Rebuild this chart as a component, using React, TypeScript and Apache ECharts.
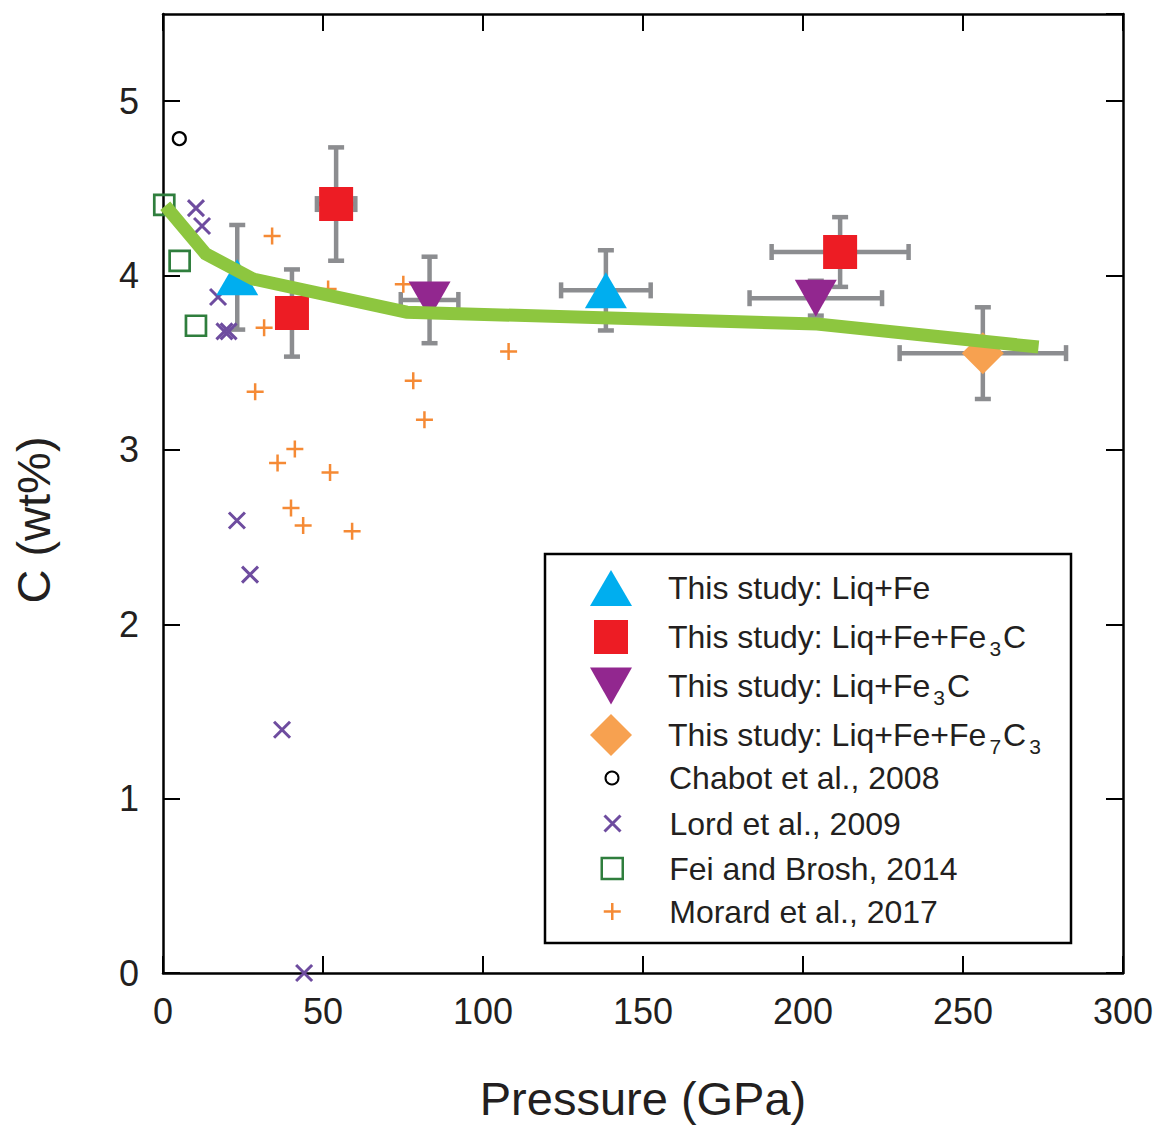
import React, { useEffect, useRef } from 'react';
import * as echarts from 'echarts';

const FONT = '"Liberation Sans", Arial, Helvetica, sans-serif';
const INK = '#231F20';

// axes
const X_MIN = 0;
const X_MAX = 300;
const X_STEP = 50;
const Y_MIN = 0;
const Y_MAX = 5.5;
const Y_STEP = 1;
const X_TITLE = 'Pressure (GPa)';
const Y_TITLE = 'C (wt%)';

// series names
const N_LIQFE = 'This study: Liq+Fe';
const N_LIQFEFE3C = 'This study: Liq+Fe+Fe3C';
const N_LIQFE3C = 'This study: Liq+Fe3C';
const N_LIQFEFE7C3 = 'This study: Liq+Fe+Fe7C3';
const N_CHABOT = 'Chabot et al., 2008';
const N_LORD = 'Lord et al., 2009';
const N_FEI = 'Fei and Brosh, 2014';
const N_MORARD = 'Morard et al., 2017';

// [pressure (GPa), C (wt%), ±pressure, ±C]
const liqFe = [
  [23.2, 3.99, 0, 0.3],
  [138.4, 3.915, 14, 0.23],
];
const liqFeFe3C = [
  [40.3, 3.785, 0, 0.25],
  [54.1, 4.41, 6, 0.325],
  [211.6, 4.135, 21.4, 0.2],
];
const liqFe3C = [
  [83.3, 3.86, 9, 0.248],
  [204, 3.87, 20.7, 0.1],
];
const liqFeFe7C3 = [[256.2, 3.555, 26, 0.263]];

// [pressure (GPa), C (wt%)]
const chabot2008 = [[5.1, 4.785]];
const lord2009 = [
  [10.3, 4.387],
  [12.2, 4.284],
  [17.2, 3.877],
  [19.2, 3.68],
  [20.5, 3.68],
  [23.1, 2.595],
  [27.2, 2.285],
  [37.2, 1.395],
  [44.1, 0],
];
const fei2014 = [
  [0.4, 4.405],
  [5.2, 4.084],
  [10.3, 3.712],
];
const morard2017 = [
  [34.1, 4.227],
  [51.6, 3.923],
  [75.1, 3.95],
  [31.6, 3.7],
  [28.8, 3.333],
  [78.2, 3.396],
  [81.7, 3.173],
  [108, 3.564],
  [41.2, 3.005],
  [35.8, 2.925],
  [52.2, 2.871],
  [40, 2.667],
  [43.8, 2.566],
  [59.1, 2.533],
];
const trendLine = [
  [0.7, 4.4],
  [13.3, 4.125],
  [28.2, 3.98],
  [76.2, 3.79],
  [204.4, 3.722],
  [273.6, 3.59],
];

// legend labels with subscripts (rich text)
const LEGEND_TEXT: Record<string, string> = {
  [N_LIQFE]: '{a|This study: Liq+Fe}',
  [N_LIQFEFE3C]: '{a|This study: Liq+Fe+Fe}{s|3}{a|C}',
  [N_LIQFE3C]: '{a|This study: Liq+Fe}{s|3}{a|C}',
  [N_LIQFEFE7C3]: '{a|This study: Liq+Fe+Fe}{s|7}{a|C}{s|3}',
  [N_CHABOT]: '{a|Chabot et al., 2008}',
  [N_LORD]: '{a|Lord et al., 2009}',
  [N_FEI]: '{a|Fei and Brosh, 2014}',
  [N_MORARD]: '{a|Morard et al., 2017}',
};

// colours
const C_BLUE = '#00AEEF';
const C_RED = '#ED1C24';
const C_PURPLE = '#92278F';
const C_DIAMOND = '#F7A150';
const C_GREENLINE = '#8DC63F';
const C_ERR = '#8C8D90';
const C_LORD = '#6E4C9F';
const C_FEI = '#2F7E3D';
const C_MORARD = '#F58A35';
const CLEAR = 'rgba(0,0,0,0)';

const X_PATH = 'path://M0,0L10,10M10,0L0,10';
const PLUS_PATH = 'path://M5,0L5,10M0,5L10,5';
const DOWN_TRI_PATH = 'path://M0,0L42,0L21,37Z';

function errorBarItem(params: any, api: any) {
  const x = api.value(0);
  const y = api.value(1);
  const ex = api.value(2);
  const ey = api.value(3);
  const c = api.coord([x, y]);
  const cap = 8;
  const style = { stroke: C_ERR, lineWidth: 4.5, fill: 'none' };
  const kids: any[] = [];
  if (ey > 0) {
    const t = api.coord([x, y + ey]);
    const b = api.coord([x, y - ey]);
    kids.push({ type: 'line', shape: { x1: c[0], y1: t[1], x2: c[0], y2: b[1] }, style });
    kids.push({ type: 'line', shape: { x1: c[0] - cap, y1: t[1], x2: c[0] + cap, y2: t[1] }, style });
    kids.push({ type: 'line', shape: { x1: c[0] - cap, y1: b[1], x2: c[0] + cap, y2: b[1] }, style });
  }
  if (ex > 0) {
    const l = api.coord([x - ex, y]);
    const r = api.coord([x + ex, y]);
    kids.push({ type: 'line', shape: { x1: l[0], y1: c[1], x2: r[0], y2: c[1] }, style });
    kids.push({ type: 'line', shape: { x1: l[0], y1: c[1] - cap, x2: l[0], y2: c[1] + cap }, style });
    kids.push({ type: 'line', shape: { x1: r[0], y1: c[1] - cap, x2: r[0], y2: c[1] + cap }, style });
  }
  return { type: 'group', children: kids };
}

// legend layout (icon centre x, text start x, per-row icon centre y and size)
// th = height of the text box (used to keep icon centres where they belong)
const LEG_ICON_CX = 611;
const LEG_TEXT_X = 668;
const LEGEND_ROWS = [
  { name: N_LIQFE, cy: 588, w: 42, h: 36, th: 33, icon: 'triangle', style: { color: C_BLUE, borderWidth: 0 } },
  { name: N_LIQFEFE3C, cy: 637, w: 34, h: 34, th: 44, icon: 'rect', style: { color: C_RED, borderWidth: 0 } },
  { name: N_LIQFE3C, cy: 686, w: 42, h: 37, th: 44, icon: DOWN_TRI_PATH, style: { color: C_PURPLE, borderWidth: 0 } },
  { name: N_LIQFEFE7C3, cy: 735, w: 42, h: 42, th: 44, icon: 'diamond', style: { color: C_DIAMOND, borderWidth: 0 } },
  { name: N_CHABOT, cy: 778.5, w: 13, h: 13, th: 33, icon: 'circle', style: { color: '#fff', borderColor: '#000', borderWidth: 2 } },
  { name: N_LORD, cy: 824, w: 16, h: 16, th: 33, icon: X_PATH, style: { color: CLEAR, borderColor: C_LORD, borderWidth: 3 } },
  { name: N_FEI, cy: 869, w: 21, h: 21, th: 33, icon: 'rect', style: { color: CLEAR, borderColor: C_FEI, borderWidth: 2.5 } },
  { name: N_MORARD, cy: 912, w: 17, h: 17, th: 33, icon: PLUS_PATH, style: { color: CLEAR, borderColor: C_MORARD, borderWidth: 2.5 } },
];

function buildOption() {
  const axisLine = { show: true, onZero: false, lineStyle: { color: '#000', width: 2.5 } };
  const axisTick = { show: true, inside: true, length: 17, lineStyle: { color: '#000', width: 2 } };
  const labelStyle = { color: INK, fontFamily: FONT, fontSize: 36 };

  const legends = LEGEND_ROWS.map((r) => ({
    data: [{ name: r.name, icon: r.icon }],
    left: LEG_ICON_CX - r.w / 2,
    top: r.cy - Math.max(r.h, r.th) / 2,
    itemWidth: r.w,
    itemHeight: r.h,
    padding: 0,
    itemGap: 0,
    selectedMode: false,
    symbolRotate: 0,
    itemStyle: r.style,
    formatter: (n: string) => LEGEND_TEXT[n] || n,
    textStyle: {
      color: INK,
      fontFamily: FONT,
      fontSize: 32,
      lineHeight: 10,
      padding: [0, 0, 0, LEG_TEXT_X - (LEG_ICON_CX + r.w / 2 + 5)],
      rich: {
        a: { color: INK, fontFamily: FONT, fontSize: 32, lineHeight: 10 },
        s: { color: INK, fontFamily: FONT, fontSize: 21, lineHeight: 10, padding: [23, 2, 0, 3] },
      },
    },
  }));

  const errData = [...liqFe, ...liqFeFe3C, ...liqFe3C, ...liqFeFe7C3];

  return {
    animation: false,
    backgroundColor: '#fff',
    grid: { left: 163, right: 37, top: 14, bottom: 155, outerBoundsMode: 'none', containLabel: false },
    xAxis: [
      {
        type: 'value',
        position: 'bottom',
        min: X_MIN,
        max: X_MAX,
        interval: X_STEP,
        axisLine,
        axisTick,
        splitLine: { show: false },
        axisLabel: { ...labelStyle, margin: 20 },
        name: X_TITLE,
        nameLocation: 'middle',
        nameGap: 102,
        nameTextStyle: { color: INK, fontFamily: FONT, fontSize: 47 },
      },
      {
        type: 'value',
        position: 'top',
        min: X_MIN,
        max: X_MAX,
        interval: X_STEP,
        axisLine,
        axisTick,
        splitLine: { show: false },
        axisLabel: { show: false },
      },
    ],
    yAxis: [
      {
        type: 'value',
        position: 'left',
        min: Y_MIN,
        max: Y_MAX,
        interval: Y_STEP,
        axisLine,
        axisTick,
        splitLine: { show: false },
        axisLabel: { ...labelStyle, margin: 24, showMaxLabel: false },
        name: Y_TITLE,
        nameLocation: 'middle',
        nameGap: 106,
        nameTextStyle: { color: INK, fontFamily: FONT, fontSize: 47, padding: [0, 53, 0, 0] },
      },
      {
        type: 'value',
        position: 'right',
        min: Y_MIN,
        max: Y_MAX,
        interval: Y_STEP,
        axisLine,
        axisTick,
        splitLine: { show: false },
        axisLabel: { show: false },
      },
    ],
    legend: legends,
    graphic: [
      {
        type: 'rect',
        z: 3,
        shape: { x: 545, y: 554, width: 526, height: 389 },
        style: { fill: '#fff', stroke: '#000', lineWidth: 2.5 },
      },
    ],
    series: [
      {
        name: 'trend',
        type: 'line',
        data: trendLine,
        showSymbol: false,
        symbol: 'none',
        clip: false,
        silent: true,
        lineStyle: { color: C_GREENLINE, width: 13, cap: 'butt', join: 'miter' },
      },
      {
        name: 'errors',
        type: 'custom',
        data: errData,
        encode: { x: 0, y: 1 },
        renderItem: errorBarItem,
        clip: false,
        silent: true,
      },
      {
        name: N_CHABOT,
        type: 'scatter',
        data: chabot2008,
        symbol: 'circle',
        symbolSize: 13,
        clip: false,
        itemStyle: { color: '#fff', borderColor: '#000', borderWidth: 2.2, opacity: 1 },
      },
      {
        name: N_LORD,
        type: 'scatter',
        data: lord2009,
        symbol: X_PATH,
        symbolSize: 16,
        clip: false,
        itemStyle: { color: CLEAR, borderColor: C_LORD, borderWidth: 3, opacity: 1 },
      },
      {
        name: N_FEI,
        type: 'scatter',
        data: fei2014,
        symbol: 'rect',
        symbolSize: 20,
        clip: false,
        itemStyle: { color: CLEAR, borderColor: C_FEI, borderWidth: 2.7, opacity: 1 },
      },
      {
        name: N_MORARD,
        type: 'scatter',
        data: morard2017,
        symbol: PLUS_PATH,
        symbolSize: 17,
        clip: false,
        itemStyle: { color: CLEAR, borderColor: C_MORARD, borderWidth: 2.5, opacity: 1 },
      },
      {
        name: N_LIQFE,
        type: 'scatter',
        data: liqFe.map((d) => [d[0], d[1]]),
        symbol: 'triangle',
        symbolSize: [42, 36],
        clip: false,
        itemStyle: { color: C_BLUE, opacity: 1 },
      },
      {
        name: N_LIQFEFE3C,
        type: 'scatter',
        data: liqFeFe3C.map((d) => [d[0], d[1]]),
        symbol: 'rect',
        symbolSize: 34,
        clip: false,
        itemStyle: { color: C_RED, opacity: 1 },
      },
      {
        name: N_LIQFE3C,
        type: 'scatter',
        data: liqFe3C.map((d) => [d[0], d[1]]),
        symbol: 'triangle',
        symbolRotate: 180,
        symbolSize: [42, 37],
        clip: false,
        itemStyle: { color: C_PURPLE, opacity: 1 },
      },
      {
        name: N_LIQFEFE7C3,
        type: 'scatter',
        data: liqFeFe7C3.map((d) => [d[0], d[1]]),
        symbol: 'diamond',
        symbolSize: [42, 42],
        clip: false,
        itemStyle: { color: C_DIAMOND, opacity: 1 },
      },
    ],
  };
}

export default function App() {
  const ref = useRef<HTMLDivElement>(null);
  useEffect(() => {
    if (!ref.current) return;
    const chart = echarts.init(ref.current, null, { renderer: 'svg' });
    chart.setOption(buildOption() as any);
    return () => chart.dispose();
  }, []);
  return (
    <div
      ref={ref}
      style={{ position: 'absolute', left: 0, top: 0, width: 1160, height: 1128, background: '#fff' }}
    />
  );
}
